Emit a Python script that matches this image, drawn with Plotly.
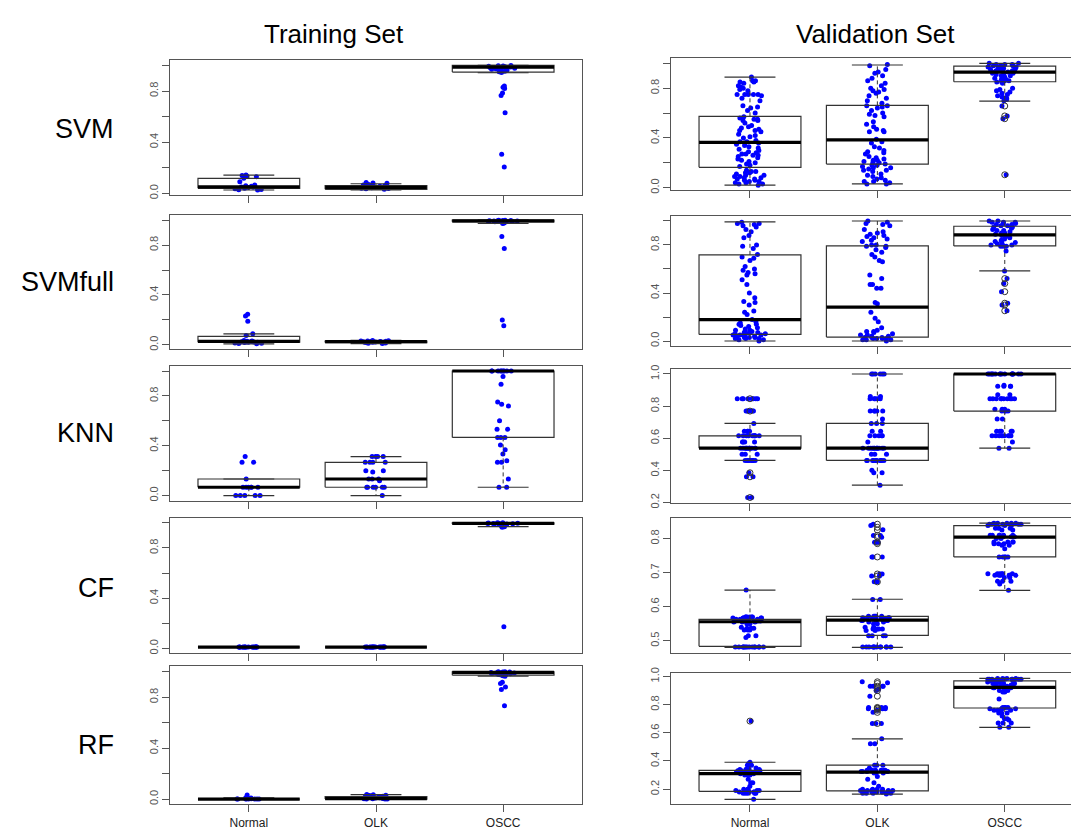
import plotly.graph_objects as go

W, H = 1071, 838
groups = ["Normal", "OLK", "OSCC"]
models = ["SVM", "SVMfull", "KNN", "CF", "RF"]

# ---------------- Training set: point values ----------------
tr_svm_normal = [0.143, 0.14, 0.135, 0.13, 0.117, 0.09, 0.065, 0.06, 0.055, 0.05, 0.05, 0.048, 0.045, 0.04, 0.04, 0.035, 0.03, 0.028, 0.026]
tr_svm_olk = [0.085, 0.08, 0.078, 0.07, 0.065, 0.06, 0.058, 0.055, 0.052, 0.05, 0.05, 0.048, 0.045, 0.043, 0.04, 0.038, 0.035, 0.032]
tr_svm_oscc = [1.0, 0.998, 0.995, 0.993, 0.99, 0.99, 0.988, 0.985, 0.985, 0.982, 0.98, 0.978, 0.975, 0.97, 0.965, 0.96, 0.955, 0.95, 0.945, 0.84, 0.83, 0.82, 0.785, 0.765, 0.63, 0.305, 0.205]

tr_svmfull_normal = [0.245, 0.232, 0.19, 0.088, 0.075, 0.035, 0.03, 0.028, 0.027, 0.025, 0.024, 0.022, 0.021, 0.02, 0.018, 0.015, 0.012, 0.01, 0.008]
tr_svmfull_olk = [0.035, 0.032, 0.03, 0.03, 0.028, 0.027, 0.026, 0.025, 0.025, 0.024, 0.022, 0.02, 0.02, 0.018, 0.015, 0.012, 0.01]
tr_svmfull_oscc = [1.0, 1.0, 0.998, 0.997, 0.996, 0.995, 0.995, 0.994, 0.993, 0.992, 0.99, 0.99, 0.988, 0.987, 0.985, 0.983, 0.98, 0.977, 0.973, 0.869, 0.773, 0.2, 0.152]

tr_knn_normal = [0.313, 0.267, 0.267, 0.133, 0.067, 0.067, 0.067, 0.067, 0.067, 0.067, 0.0, 0.0, 0.0, 0.0, 0.0]
tr_knn_olk = [0.313, 0.313, 0.313, 0.313, 0.267, 0.267, 0.267, 0.267, 0.2, 0.2, 0.19, 0.133, 0.133, 0.133, 0.12, 0.067, 0.067, 0.067, 0.067, 0.067, 0.067, 0.0]
tr_knn_oscc = [1.0, 1.0, 1.0, 1.0, 1.0, 1.0, 1.0, 1.0, 1.0, 0.955, 0.893, 0.752, 0.733, 0.72, 0.6, 0.533, 0.533, 0.467, 0.467, 0.467, 0.405, 0.368, 0.333, 0.28, 0.267, 0.267, 0.133, 0.067, 0.067]

tr_cf_normal = [0.012, 0.011, 0.011, 0.01, 0.01, 0.01, 0.01, 0.01, 0.01, 0.01, 0.01, 0.009, 0.009, 0.009, 0.008, 0.008]
tr_cf_olk = [0.012, 0.012, 0.011, 0.011, 0.01, 0.01, 0.01, 0.01, 0.01, 0.01, 0.01, 0.01, 0.009, 0.009, 0.009, 0.008, 0.008]
tr_cf_oscc = [1.0, 1.0, 0.998, 0.997, 0.996, 0.995, 0.994, 0.993, 0.992, 0.99, 0.99, 0.988, 0.985, 0.982, 0.98, 0.975, 0.97, 0.968, 0.965, 0.173]

tr_rf_normal = [0.032, 0.01, 0.008, 0.005, 0.004, 0.003, 0.002, 0.002, 0.001, 0.001, 0.0, 0.0, 0.0, 0.0, 0.0]
tr_rf_olk = [0.035, 0.033, 0.03, 0.028, 0.025, 0.022, 0.02, 0.018, 0.015, 0.012, 0.01, 0.008, 0.005, 0.003, 0.002, 0.001, 0.0, 0.0]
tr_rf_oscc = [1.0, 1.0, 0.999, 0.998, 0.997, 0.995, 0.993, 0.99, 0.99, 0.987, 0.985, 0.983, 0.98, 0.978, 0.975, 0.972, 0.968, 0.965, 0.917, 0.907, 0.88, 0.861, 0.733]

# box stats [q1, median, q3, lower whisker, upper whisker]
tr_svm_stats = [[0.039, 0.05, 0.117, 0.026, 0.143], [0.031, 0.047, 0.06, 0.026, 0.075], [0.948, 0.987, 1.0, 0.943, 1.0]]
tr_svmfull_stats = [[0.021, 0.027, 0.067, 0.008, 0.088], [0.018, 0.025, 0.03, 0.01, 0.035], [0.987, 0.995, 1.0, 0.973, 1.0]]
tr_knn_stats = [[0.067, 0.067, 0.133, 0.0, 0.133], [0.067, 0.133, 0.267, 0.0, 0.313], [0.467, 1.0, 1.0, 0.067, 1.0]]
tr_cf_stats = [[0.01, 0.01, 0.01, 0.01, 0.01], [0.01, 0.01, 0.01, 0.01, 0.01], [0.99, 0.996, 1.0, 0.97, 1.0]]
tr_rf_stats = [[0.0, 0.0, 0.005, 0.0, 0.01], [0.0, 0.003, 0.02, 0.0, 0.035], [0.973, 0.995, 1.0, 0.965, 1.0]]

# ---------------- Validation set: point values ----------------
va_svm_normal = [0.89, 0.86, 0.86, 0.85, 0.85, 0.84, 0.82, 0.81, 0.8, 0.79, 0.78, 0.75, 0.75, 0.75, 0.75, 0.75, 0.74, 0.72, 0.7, 0.66, 0.65, 0.64, 0.62, 0.6, 0.57, 0.56, 0.55, 0.55, 0.54, 0.54, 0.52, 0.5, 0.49, 0.48, 0.47, 0.46, 0.46, 0.45, 0.43, 0.42, 0.41, 0.4, 0.38, 0.37, 0.37, 0.36, 0.36, 0.35, 0.34, 0.33, 0.32, 0.31, 0.3, 0.29, 0.28, 0.27, 0.27, 0.26, 0.26, 0.25, 0.24, 0.23, 0.22, 0.21, 0.2, 0.19, 0.18, 0.17, 0.14, 0.13, 0.13, 0.12, 0.12, 0.11, 0.1, 0.1, 0.09, 0.09, 0.08, 0.08, 0.07, 0.07, 0.06, 0.06, 0.05, 0.05, 0.04, 0.04, 0.03, 0.03, 0.02]
va_svm_olk = [0.99, 0.98, 0.95, 0.93, 0.92, 0.9, 0.88, 0.86, 0.84, 0.82, 0.8, 0.79, 0.78, 0.77, 0.76, 0.74, 0.72, 0.7, 0.68, 0.66, 0.66, 0.65, 0.64, 0.62, 0.6, 0.59, 0.58, 0.57, 0.53, 0.51, 0.49, 0.47, 0.46, 0.45, 0.45, 0.39, 0.37, 0.36, 0.33, 0.32, 0.3, 0.29, 0.28, 0.27, 0.25, 0.24, 0.23, 0.22, 0.22, 0.21, 0.2, 0.2, 0.19, 0.18, 0.18, 0.17, 0.16, 0.16, 0.15, 0.14, 0.14, 0.13, 0.11, 0.1, 0.09, 0.08, 0.07, 0.06, 0.05, 0.05, 0.04, 0.03, 0.03]
va_svm_oscc = [1.0, 1.0, 0.99, 0.99, 0.99, 0.98, 0.98, 0.98, 0.97, 0.97, 0.97, 0.96, 0.96, 0.96, 0.95, 0.95, 0.95, 0.94, 0.94, 0.94, 0.93, 0.93, 0.93, 0.92, 0.92, 0.91, 0.91, 0.9, 0.9, 0.89, 0.88, 0.87, 0.87, 0.86, 0.86, 0.85, 0.85, 0.84, 0.8, 0.79, 0.78, 0.77, 0.76, 0.75, 0.74, 0.73, 0.72, 0.72, 0.71, 0.7, 0.657, 0.577, 0.555, 0.104]

va_svmfull_normal = [0.99, 0.98, 0.98, 0.97, 0.96, 0.95, 0.93, 0.91, 0.88, 0.86, 0.8, 0.79, 0.77, 0.72, 0.7, 0.69, 0.67, 0.62, 0.6, 0.59, 0.57, 0.56, 0.55, 0.51, 0.47, 0.4, 0.36, 0.33, 0.32, 0.3, 0.25, 0.24, 0.22, 0.18, 0.16, 0.15, 0.14, 0.14, 0.13, 0.12, 0.11, 0.1, 0.09, 0.09, 0.08, 0.08, 0.07, 0.07, 0.07, 0.06, 0.06, 0.06, 0.05, 0.05, 0.05, 0.04, 0.04, 0.04, 0.03, 0.03, 0.03, 0.02, 0.02, 0.02, 0.01, 0.01, 0.0]
va_svmfull_olk = [1.0, 0.99, 0.98, 0.97, 0.96, 0.93, 0.91, 0.9, 0.89, 0.88, 0.87, 0.86, 0.85, 0.84, 0.83, 0.8, 0.8, 0.79, 0.79, 0.78, 0.76, 0.74, 0.72, 0.7, 0.67, 0.66, 0.55, 0.52, 0.47, 0.47, 0.44, 0.44, 0.32, 0.31, 0.24, 0.19, 0.16, 0.11, 0.09, 0.08, 0.08, 0.07, 0.06, 0.05, 0.05, 0.04, 0.04, 0.03, 0.03, 0.03, 0.02, 0.02, 0.02, 0.02, 0.01, 0.01, 0.01, 0.0]
va_svmfull_oscc = [1.0, 1.0, 0.99, 0.99, 0.99, 0.98, 0.98, 0.97, 0.97, 0.96, 0.96, 0.95, 0.95, 0.94, 0.93, 0.92, 0.92, 0.91, 0.9, 0.9, 0.89, 0.88, 0.87, 0.86, 0.85, 0.84, 0.83, 0.82, 0.82, 0.81, 0.8, 0.8, 0.8, 0.79, 0.79, 0.79, 0.75, 0.584, 0.52, 0.479, 0.411, 0.315, 0.3, 0.252]

va_knn_normal = [0.846, 0.846, 0.846, 0.846, 0.846, 0.846, 0.846, 0.846, 0.769, 0.769, 0.769, 0.769, 0.769, 0.769, 0.692, 0.643, 0.643, 0.643, 0.643, 0.615, 0.615, 0.615, 0.615, 0.615, 0.615, 0.615, 0.615, 0.615, 0.577, 0.577, 0.577, 0.577, 0.538, 0.538, 0.538, 0.538, 0.538, 0.538, 0.538, 0.538, 0.538, 0.538, 0.538, 0.538, 0.5, 0.5, 0.5, 0.462, 0.462, 0.462, 0.462, 0.462, 0.462, 0.462, 0.462, 0.385, 0.36, 0.36, 0.231, 0.231]
va_knn_olk = [1.0, 1.0, 1.0, 1.0, 1.0, 1.0, 0.86, 0.86, 0.846, 0.846, 0.846, 0.846, 0.846, 0.769, 0.769, 0.769, 0.769, 0.769, 0.72, 0.692, 0.692, 0.692, 0.643, 0.643, 0.615, 0.615, 0.615, 0.615, 0.615, 0.577, 0.538, 0.538, 0.538, 0.538, 0.538, 0.538, 0.538, 0.538, 0.538, 0.538, 0.538, 0.538, 0.5, 0.5, 0.5, 0.462, 0.462, 0.462, 0.462, 0.462, 0.462, 0.462, 0.462, 0.462, 0.462, 0.4, 0.385, 0.385, 0.308]
va_knn_oscc = [1.0, 1.0, 1.0, 1.0, 1.0, 1.0, 1.0, 1.0, 1.0, 1.0, 1.0, 1.0, 1.0, 1.0, 1.0, 1.0, 0.923, 0.923, 0.923, 0.923, 0.93, 0.87, 0.87, 0.846, 0.846, 0.846, 0.846, 0.846, 0.846, 0.846, 0.846, 0.846, 0.846, 0.78, 0.78, 0.78, 0.769, 0.769, 0.769, 0.769, 0.72, 0.72, 0.643, 0.643, 0.643, 0.643, 0.643, 0.615, 0.615, 0.615, 0.615, 0.615, 0.615, 0.615, 0.615, 0.577, 0.538, 0.538]

va_cf_normal = [0.649, 0.57, 0.57, 0.57, 0.57, 0.57, 0.57, 0.567, 0.567, 0.567, 0.567, 0.567, 0.567, 0.563, 0.563, 0.563, 0.563, 0.563, 0.558, 0.558, 0.558, 0.558, 0.558, 0.555, 0.555, 0.555, 0.555, 0.55, 0.55, 0.54, 0.537, 0.537, 0.537, 0.532, 0.532, 0.532, 0.515, 0.515, 0.51, 0.482, 0.482, 0.482, 0.482, 0.482, 0.482, 0.482, 0.482, 0.482, 0.482, 0.482, 0.482, 0.482, 0.482]
va_cf_olk = [0.842, 0.838, 0.826, 0.809, 0.809, 0.804, 0.789, 0.789, 0.789, 0.746, 0.746, 0.746, 0.696, 0.696, 0.69, 0.69, 0.673, 0.673, 0.621, 0.621, 0.572, 0.572, 0.572, 0.572, 0.572, 0.568, 0.568, 0.568, 0.568, 0.568, 0.565, 0.565, 0.565, 0.565, 0.56, 0.56, 0.56, 0.56, 0.555, 0.555, 0.555, 0.55, 0.55, 0.54, 0.54, 0.535, 0.535, 0.535, 0.535, 0.53, 0.53, 0.515, 0.515, 0.515, 0.515, 0.482, 0.482, 0.482, 0.482, 0.482, 0.482, 0.482, 0.482, 0.482, 0.482, 0.482, 0.482]
va_cf_oscc = [0.845, 0.845, 0.845, 0.845, 0.845, 0.842, 0.842, 0.842, 0.842, 0.842, 0.842, 0.838, 0.838, 0.838, 0.83, 0.83, 0.83, 0.825, 0.825, 0.81, 0.81, 0.81, 0.81, 0.81, 0.81, 0.805, 0.805, 0.805, 0.8, 0.8, 0.79, 0.79, 0.79, 0.79, 0.785, 0.785, 0.785, 0.78, 0.78, 0.77, 0.746, 0.746, 0.746, 0.746, 0.746, 0.697, 0.697, 0.697, 0.697, 0.697, 0.697, 0.692, 0.692, 0.692, 0.692, 0.692, 0.692, 0.686, 0.686, 0.675, 0.675, 0.675, 0.667, 0.648]

va_rf_normal = [0.683, 0.391, 0.38, 0.37, 0.37, 0.37, 0.35, 0.34, 0.34, 0.34, 0.34, 0.34, 0.33, 0.33, 0.33, 0.33, 0.33, 0.32, 0.32, 0.32, 0.32, 0.32, 0.32, 0.31, 0.31, 0.31, 0.3, 0.3, 0.3, 0.27, 0.245, 0.245, 0.22, 0.2, 0.2, 0.2, 0.19, 0.19, 0.19, 0.19, 0.18, 0.18, 0.18, 0.18, 0.18, 0.18, 0.17, 0.17, 0.17, 0.17, 0.17, 0.128]
va_rf_olk = [0.962, 0.955, 0.93, 0.93, 0.93, 0.93, 0.91, 0.9, 0.86, 0.78, 0.78, 0.78, 0.77, 0.77, 0.77, 0.76, 0.745, 0.666, 0.666, 0.666, 0.557, 0.522, 0.522, 0.37, 0.37, 0.37, 0.35, 0.335, 0.335, 0.335, 0.335, 0.335, 0.335, 0.325, 0.325, 0.325, 0.325, 0.325, 0.315, 0.315, 0.315, 0.29, 0.27, 0.245, 0.22, 0.2, 0.2, 0.2, 0.2, 0.19, 0.19, 0.19, 0.19, 0.19, 0.19, 0.18, 0.18, 0.18, 0.18, 0.18, 0.17, 0.17, 0.17, 0.17, 0.17, 0.165]
va_rf_oscc = [0.986, 0.986, 0.986, 0.986, 0.98, 0.98, 0.98, 0.98, 0.98, 0.98, 0.98, 0.98, 0.97, 0.97, 0.97, 0.97, 0.97, 0.96, 0.96, 0.96, 0.95, 0.95, 0.95, 0.95, 0.94, 0.94, 0.94, 0.93, 0.93, 0.93, 0.92, 0.92, 0.92, 0.9, 0.9, 0.9, 0.89, 0.89, 0.84, 0.78, 0.78, 0.78, 0.78, 0.77, 0.77, 0.77, 0.77, 0.76, 0.76, 0.76, 0.74, 0.74, 0.74, 0.72, 0.7, 0.7, 0.69, 0.67, 0.67, 0.67, 0.64, 0.64]

va_svm_stats = [[0.164, 0.364, 0.574, 0.021, 0.89], [0.19, 0.384, 0.662, 0.031, 0.987], [0.852, 0.93, 0.977, 0.696, 1.0]]
va_svmfull_stats = [[0.055, 0.178, 0.718, 0.0, 0.992], [0.033, 0.282, 0.792, 0.0, 1.0], [0.792, 0.885, 0.956, 0.584, 1.0]]
va_knn_stats = [[0.538, 0.538, 0.615, 0.462, 0.692], [0.462, 0.538, 0.692, 0.308, 1.0], [0.769, 1.0, 1.0, 0.538, 1.0]]
va_cf_stats = [[0.484, 0.556, 0.563, 0.481, 0.649], [0.516, 0.561, 0.572, 0.481, 0.622], [0.746, 0.804, 0.838, 0.648, 0.845]]
va_rf_stats = [[0.184, 0.31, 0.333, 0.128, 0.391], [0.188, 0.321, 0.37, 0.165, 0.557], [0.776, 0.923, 0.969, 0.638, 0.986]]

# outliers drawn as open circles (validation set)
va_svm_out = [[], [], [0.657, 0.577, 0.555, 0.104]]
va_svmfull_out = [[], [], [0.52, 0.479, 0.411, 0.315, 0.3, 0.252]]
va_knn_out = [[0.846, 0.769, 0.385, 0.36, 0.231], [], []]
va_cf_out = [[], [0.842, 0.833, 0.825, 0.809, 0.804, 0.789, 0.785, 0.746, 0.696, 0.69, 0.673], []]
va_rf_out = [[0.683], [0.962, 0.95, 0.93, 0.915, 0.9, 0.86, 0.78, 0.775, 0.77, 0.76, 0.745, 0.666], []]

# y ticks
ticks_01 = ([0, 0.2, 0.4, 0.6, 0.8, 1.0], ["0.0", "", "0.4", "", "0.8", ""])
ticks_21 = ([0.2, 0.4, 0.6, 0.8, 1.0], ["0.2", "0.4", "0.6", "0.8", "1.0"])
ticks_cf = ([0.5, 0.6, 0.7, 0.8], ["0.5", "0.6", "0.7", "0.8"])

train_points = [[tr_svm_normal, tr_svm_olk, tr_svm_oscc], [tr_svmfull_normal, tr_svmfull_olk, tr_svmfull_oscc],
                [tr_knn_normal, tr_knn_olk, tr_knn_oscc], [tr_cf_normal, tr_cf_olk, tr_cf_oscc],
                [tr_rf_normal, tr_rf_olk, tr_rf_oscc]]
train_stats = [tr_svm_stats, tr_svmfull_stats, tr_knn_stats, tr_cf_stats, tr_rf_stats]
val_points = [[va_svm_normal, va_svm_olk, va_svm_oscc], [va_svmfull_normal, va_svmfull_olk, va_svmfull_oscc],
              [va_knn_normal, va_knn_olk, va_knn_oscc], [va_cf_normal, va_cf_olk, va_cf_oscc],
              [va_rf_normal, va_rf_olk, va_rf_oscc]]
val_stats = [va_svm_stats, va_svmfull_stats, va_knn_stats, va_cf_stats, va_rf_stats]
val_out = [va_svm_out, va_svmfull_out, va_knn_out, va_cf_out, va_rf_out]
val_ticks = [ticks_01, ticks_01, ticks_21, ticks_cf, ticks_21]

# ---------------- layout geometry (pixels) ----------------
train_x = (170, 582)
val_x = (671, 1071)
train_rows = [(55, 192), (212, 348), (365, 502), (519, 656), (670, 810)]
val_rows = [(53, 187), (213, 345), (368, 504), (519, 656), (677, 810)]

FONT = "Liberation Sans, Arial, Helvetica, sans-serif"
AX = "#555555"
BOXC = "#333333"
BW = 0.4  # half box width (R boxwex 0.8)

fig = go.Figure()
layout = {}


def add_panel(k, pts, stats, outs, ticks, xpx, ypx, xrange, is_val, bottom):
    xa = "x" if k == 1 else f"x{k}"
    ya = "y" if k == 1 else f"y{k}"
    allv = [v for g in pts for v in g] + [v for g in outs for v in g]
    lo, hi = min(allv), max(allv)
    pad = 0.04 * (hi - lo) + 0.002
    rx, ry, wx, wy, mx, my = [], [], [], [], [], []
    for gi, s in enumerate(stats):
        c = gi + 1
        q1, med, q3, wl, wh = s
        rx += [c - BW, c + BW, c + BW, c - BW, c - BW, None,
               c - BW / 2, c + BW / 2, None, c - BW / 2, c + BW / 2, None]
        ry += [q1, q1, q3, q3, q1, None, wl, wl, None, wh, wh, None]
        wx += [c, c, None, c, c, None]
        wy += [q3, wh, None, q1, wl, None]
        mx += [c - BW, c + BW, None]
        my += [med, med, None]
    fig.add_trace(go.Scatter(x=wx, y=wy, mode="lines", line=dict(color=BOXC, width=1, dash="4px,3px"),
                             xaxis=xa, yaxis=ya, hoverinfo="skip", showlegend=False))
    fig.add_trace(go.Scatter(x=rx, y=ry, mode="lines", line=dict(color=BOXC, width=1.2),
                             xaxis=xa, yaxis=ya, hoverinfo="skip", showlegend=False))
    fig.add_trace(go.Scatter(x=mx, y=my, mode="lines", line=dict(color="#000000", width=3.2),
                             xaxis=xa, yaxis=ya, hoverinfo="skip", showlegend=False))
    for gi, o in enumerate(outs):
        if o:
            fig.add_trace(go.Scatter(x=[gi + 1] * len(o), y=o, mode="markers",
                                     marker=dict(symbol="circle-open", size=6, color="#333333", line=dict(width=1)),
                                     xaxis=xa, yaxis=ya, hoverinfo="skip", showlegend=False))
    for gi, g in enumerate(pts):
        fig.add_trace(go.Box(y=g, x0=gi + 1, width=0.8, boxpoints="all", jitter=0.34, pointpos=0,
                             marker=dict(color="#0000ff", size=5, line=dict(width=0)),
                             line=dict(width=0, color="rgba(0,0,0,0)"), fillcolor="rgba(0,0,0,0)",
                             whiskerwidth=0, xaxis=xa, yaxis=ya, hoverinfo="skip", showlegend=False))
    xkey = "xaxis" if k == 1 else f"xaxis{k}"
    ykey = "yaxis" if k == 1 else f"yaxis{k}"
    layout[xkey] = dict(domain=[xpx[0] / W, xpx[1] / W], range=xrange, type="linear", anchor=ya,
                        tickmode="array", tickvals=[1, 2, 3], ticktext=groups, showticklabels=bottom,
                        ticks="outside", ticklen=7, tickcolor=AX, tickwidth=1,
                        showline=True, linecolor=AX, linewidth=1, mirror=True,
                        showgrid=False, zeroline=False,
                        tickfont=dict(family=FONT, size=12, color="#222222"))
    layout[ykey] = dict(domain=[1 - ypx[1] / H, 1 - ypx[0] / H], range=[lo - pad, hi + pad], anchor=xa,
                        tickmode="array", tickvals=ticks[0], ticktext=ticks[1], tickangle=-90,
                        ticks="outside", ticklen=7, tickcolor=AX, tickwidth=1,
                        showline=True, linecolor=AX, linewidth=1, mirror=(not is_val),
                        showgrid=False, zeroline=False,
                        tickfont=dict(family=FONT, size=11, color="#555555"))


k = 1
for r in range(5):
    add_panel(k, train_points[r], train_stats[r], [[], [], []], ticks_01, train_x, train_rows[r],
              [0.38, 3.62], False, r == 4)
    k += 1
    add_panel(k, val_points[r], val_stats[r], val_out[r], val_ticks[r], val_x, val_rows[r],
              [0.38, 3.52], True, r == 4)
    k += 1

annotations = [
    dict(text="Training Set", x=334 / W, y=1 - 28 / H, xref="paper", yref="paper", showarrow=False,
         xanchor="center", yanchor="middle", font=dict(family=FONT, size=26, color="#000000")),
    dict(text="Validation Set", x=875 / W, y=1 - 28 / H, xref="paper", yref="paper", showarrow=False,
         xanchor="center", yanchor="middle", font=dict(family=FONT, size=26, color="#000000")),
]
label_y = [125, 280, 433, 590, 750]
for m, yy in zip(models, label_y):
    annotations.append(dict(text=m, x=116 / W, y=1 - yy / H, xref="paper", yref="paper", showarrow=False,
                            xanchor="right", yanchor="middle", font=dict(family=FONT, size=27, color="#000000")))

fig.update_layout(width=W, height=H, margin=dict(l=0, r=0, t=0, b=0), paper_bgcolor="white",
                  plot_bgcolor="white", showlegend=False, annotations=annotations, boxmode="overlay",
                  **layout)
fig.write_html("out.html")
